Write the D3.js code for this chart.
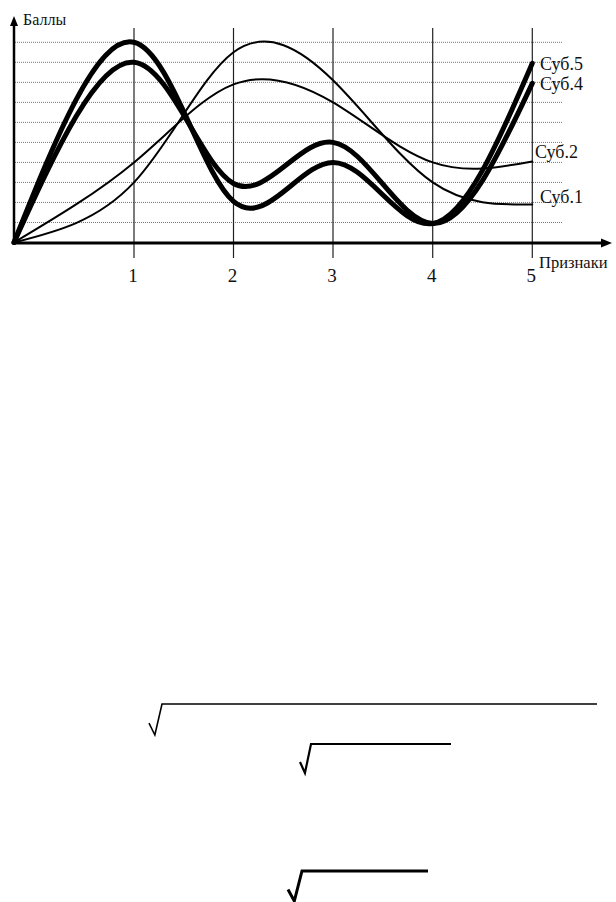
<!DOCTYPE html>
<html>
<head>
<meta charset="utf-8">
<script src="https://cdn.jsdelivr.net/npm/d3@7"></script>
<style>
  html, body { margin: 0; padding: 0; background: #fff; }
  svg { display: block; }
</style>
</head>
<body>
<svg id="chart" width="616" height="902"></svg>
<script>
// ---- data ----
const features = [0, 1, 2, 3, 4, 5];
const tickLabels = ["1", "2", "3", "4", "5"];
const gridValues = [1, 2, 3, 4, 5, 6, 7, 8, 9, 10];
const seriesNames = ["Суб.5", "Суб.4", "Суб.2", "Суб.1"];
const sub5 = [0, 10, 2.05, 4, 0.95, 8.95];
const sub4 = [0, 9, 2.95, 5, 0.95, 7.95];
const sub2 = [0, 4, 7.9, 7, 4, 4.05];
const sub1 = [0, 3, 9.5, 8.1, 3.0, 1.9];
const seriesValues = [sub5, sub4, sub2, sub1];
const seriesThick = [true, true, false, false];

// ---- layout ----
const svg = d3.select("#chart");
const FONT = "Liberation Serif";
const x = d3.scaleLinear().domain(features).range([14, 134, 233.5, 333, 432.7, 532.3]);
const y = d3.scaleLinear().domain([0, 10]).range([242.5, 42.3]);

// horizontal dotted gridlines
svg.append("g").selectAll("line").data(gridValues).join("line")
  .attr("x1", 15).attr("x2", 562)
  .attr("y1", d => y(d)).attr("y2", d => y(d))
  .attr("stroke", "#777").attr("stroke-width", 1).attr("stroke-dasharray", "1,1");

// vertical lines at features
svg.append("g").selectAll("line").data(features.slice(1)).join("line")
  .attr("x1", d => x(d)).attr("x2", d => x(d))
  .attr("y1", 28).attr("y2", 258)
  .attr("stroke", "#222").attr("stroke-width", 1.2);

// axes
svg.append("line").attr("x1", x(0)).attr("x2", 603).attr("y1", y(0) + 0.5).attr("y2", y(0) + 0.5)
  .attr("stroke", "#000").attr("stroke-width", 3);
svg.append("path").attr("d", `M612,${y(0)+0.5} L601,${y(0)-4} L601,${y(0)+5} Z`).attr("fill", "#000");
svg.append("line").attr("x1", x(0)).attr("x2", x(0)).attr("y1", y(0) + 2).attr("y2", 24)
  .attr("stroke", "#000").attr("stroke-width", 2.5);
svg.append("path").attr("d", `M${x(0)},16 L${x(0)-4},26 L${x(0)+4},26 Z`).attr("fill", "#000");

// tick labels
svg.append("g").selectAll("text").data(tickLabels).join("text")
  .attr("font-family", FONT)
  .attr("x", (d, i) => x(features[i + 1]) - 1).attr("y", 282)
  .attr("text-anchor", "middle").attr("font-size", 19).attr("fill", "#111").text(d => d);

svg.append("text").attr("font-family", FONT).attr("x", 23).attr("y", 25).attr("font-size", 16).attr("fill", "#111").text("Баллы");
svg.append("text").attr("font-family", FONT).attr("x", 539).attr("y", 268).attr("font-size", 16.5).attr("fill", "#111").text("Признаки");

// curves
const line = d3.line().x((d, i) => x(features[i])).y(d => y(d)).curve(d3.curveNatural);
svg.append("g").selectAll("path").data(seriesValues).join("path")
  .attr("d", d => line(d))
  .attr("fill", "none").attr("stroke", "#000")
  .attr("stroke-width", (d, i) => seriesThick[i] ? 5 : 2)
  .attr("stroke-linecap", "round").attr("stroke-linejoin", "round");

// series labels
const labelX = [540, 540, 535, 540];
const labelBase = [70, 90, 158, 203];
svg.append("g").selectAll("text").data(seriesNames).join("text")
  .attr("font-family", FONT)
  .attr("x", (d, i) => labelX[i]).attr("y", (d, i) => labelBase[i])
  .attr("font-size", 18).attr("fill", "#111").text(d => d);

// radical signs (remnants of formulas below the chart)
function radical(x0, yTop, yBottom, xEnd, w, lw) {
  const p = d3.path();
  p.moveTo(x0, yBottom - (yBottom - yTop) * 0.38);
  p.lineTo(x0 + w * 0.45, yBottom);
  p.lineTo(x0 + w, yTop);
  p.lineTo(xEnd, yTop);
  svg.append("path").attr("d", p.toString()).attr("fill", "none")
    .attr("stroke", "#000").attr("stroke-width", lw).attr("stroke-linejoin", "miter");
}
radical(149, 704, 735, 597, 13, 1.6);
radical(300, 744, 773, 451, 11, 2.2);
radical(288, 871, 901, 428, 14, 3);
</script>
</body>
</html>
